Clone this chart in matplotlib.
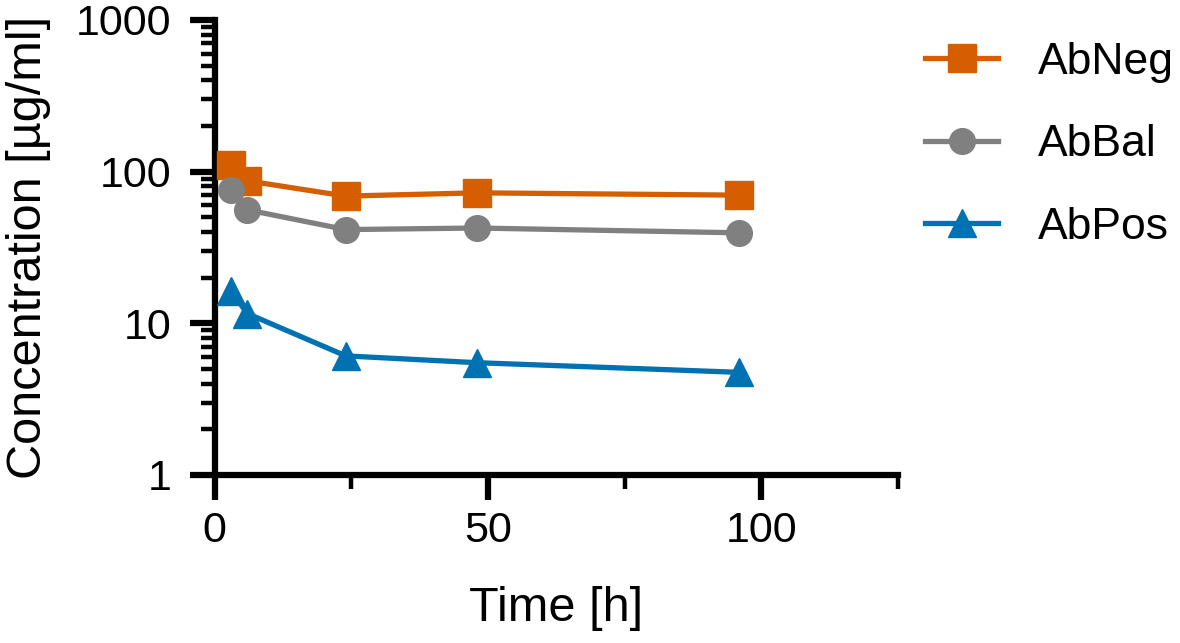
import matplotlib
matplotlib.use("Agg")
import matplotlib.pyplot as plt
from matplotlib.ticker import FixedLocator, LogLocator, NullFormatter, FixedFormatter

plt.rcParams['font.family'] = ['Liberation Sans', 'DejaVu Sans']

time_h = [3, 6, 24, 48, 96]
ab_neg = [110, 87, 69, 72.5, 70]
ab_bal = [76, 56, 41.5, 42.5, 39.5]
ab_pos = [16.4, 11.6, 6.1, 5.5, 4.75]
series_names = ["AbNeg", "AbBal", "AbPos"]
colors = ["#D55E00", "#808080", "#0072B2"]
markers = ["s", "o", "^"]
x_major = [0, 50, 100]
x_minor = [25, 75, 125]
y_major = [1, 10, 100, 1000]
y_labels = ["1", "10", "100", "1000"]

fig = plt.figure(figsize=(11.8, 6.43), dpi=100)
ax = fig.add_axes([0.1818, 0.2613, 0.5792, 0.7076])

msizes = {"s": 20, "o": 18.5, "^": 20}
for vals, name, c, m in zip([ab_neg, ab_bal, ab_pos], series_names, colors, markers):
    ax.plot(time_h, vals, color=c, marker=m, markersize=msizes[m],
            linewidth=3.8, label=name, clip_on=False, zorder=3)

ax.set_yscale('log')
ax.set_xlim(0, 125)
ax.set_ylim(1, 1000)
ax.xaxis.set_major_locator(FixedLocator(x_major))
ax.xaxis.set_minor_locator(FixedLocator(x_minor))
ax.yaxis.set_major_locator(FixedLocator(y_major))
ax.yaxis.set_major_formatter(FixedFormatter(y_labels))
ax.yaxis.set_minor_locator(LogLocator(base=10, subs=range(2, 10)))
ax.yaxis.set_minor_formatter(NullFormatter())

for s in ['top', 'right']:
    ax.spines[s].set_visible(False)
for s in ['left', 'bottom']:
    ax.spines[s].set_linewidth(4.5)
    ax.spines[s].set_capstyle('projecting')

ax.tick_params(axis='both', which='major', width=4.5, length=18, labelsize=31, direction='out')
ax.tick_params(axis='both', which='minor', width=3.2, length=10, direction='out')
ax.tick_params(axis='x', which='major', pad=8)
ax.tick_params(axis='y', which='major', pad=13)

ax.set_xlabel("Time [h]", fontsize=35, labelpad=25)
ax.set_ylabel("Concentration [µg/ml]", fontsize=35, labelpad=18)

fig.legend(loc='upper left', bbox_to_anchor=(925 / 1180, 1 - 42 / 643), frameon=False,
           fontsize=32, handlelength=1.65, handletextpad=0.9, labelspacing=0.93,
           borderaxespad=0, borderpad=0)

fig.savefig("out.png", dpi=100)
